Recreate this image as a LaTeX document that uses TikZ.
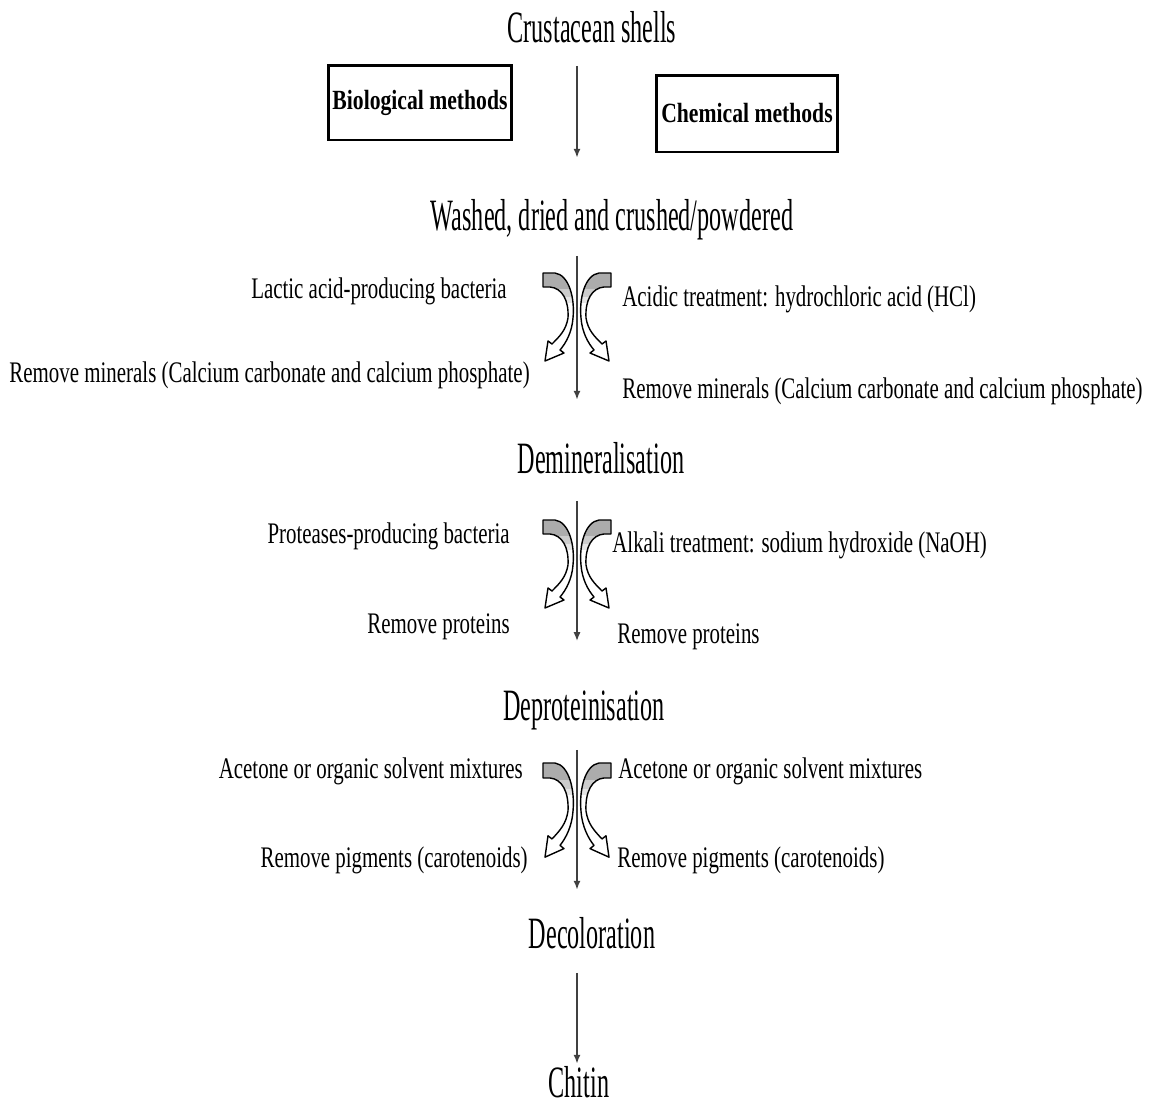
\documentclass[tikz,border=0pt]{standalone}
\usepackage{fontspec}
\setmainfont{Liberation Serif}
\newfontfamily\mainf[FakeStretch=0.54]{Liberation Serif}
\newfontfamily\sidef[FakeStretch=0.70]{Liberation Serif}
\newfontfamily\boxf[FakeStretch=0.78]{Liberation Serif}
\usetikzlibrary{arrows.meta}
\def\cshape{(-34,0) -- (-22,0) .. controls (-8,2) and (-2,25) .. (-4,45) .. controls (-5,59) and (-11,70) .. (-17,77) -- (-13,80) -- (-32,88) -- (-29,68) -- (-25,71) .. controls (-17,63) and (-11,57) .. (-9,45) .. controls (-8,27) and (-15,15) .. (-27,14) -- (-34,14) -- cycle}
\tikzset{
  mainlbl/.style={font=\mainf\fontsize{25.5}{30}\selectfont, inner sep=0pt, anchor=base},
  sidel/.style={font=\sidef\fontsize{17}{20}\selectfont, inner sep=0pt, anchor=base east},
  sider/.style={font=\sidef\fontsize{17}{20}\selectfont, inner sep=0pt, anchor=base west},
  methodbox/.style={draw, line width=1.7pt, font=\boxf\bfseries\fontsize{15.8}{18}\selectfont, inner sep=0pt},
  flow/.style={draw=black!75, line width=0.8pt, -{Latex[length=5pt,width=4pt]}},
  curvearrow/.pic={
    \fill[white] \cshape;
    \begin{scope}
      \clip \cshape;
      \fill[gray!65] (-40,-2) rectangle (0,16);
      \fill[gray!40] (-40,16) rectangle (0,24);
      \fill[gray!20] (-40,24) rectangle (0,30);
    \end{scope}
    \draw[line width=0.8pt, line join=round] \cshape;
  }
}
\begin{document}
\begin{tikzpicture}[x=0.02cm, y=-0.02cm]
\useasboundingbox (0,0) rectangle (1154,1109);
\coordinate (axis) at (577,0);

% main labels
\node[mainlbl] (crust) at (592,42) {Crustacean shells};
\node[mainlbl] (washed) at (612,230) {Washed, dried and crushed/powdered};
\node[mainlbl] (demin) at (601,473) {Demineralisation};
\node[mainlbl] (deprot) at (584,720) {Deproteinisation};
\node[mainlbl] (decol) at (592,948) {Decoloration};
\node[mainlbl] (chitin) at (579,1097) {Chitin};

% method boxes
\node[methodbox, minimum width=3.68cm, minimum height=1.5cm] (bio) at (420,102.5) {Biological methods};
\node[methodbox, minimum width=3.64cm, minimum height=1.54cm] (chem) at (747,113.5) {Chemical methods};

% side labels
\node[sidel] (lab1l) at (507,298) {Lactic acid-producing bacteria};
\node[sidel] (rem1l) at (530,382) {Remove minerals (Calcium carbonate and calcium phosphate)};
\node[sider] (lab1r) at (622,306) {Acidic treatment: hydrochloric acid (HCl)};
\node[sider] (rem1r) at (622,398) {Remove minerals (Calcium carbonate and calcium phosphate)};

\node[sidel] (lab2l) at (510,543) {Proteases-producing bacteria};
\node[sidel] (rem2l) at (510,633) {Remove proteins};
\node[sider] (lab2r) at (612,552) {Alkali treatment: sodium hydroxide (NaOH)};
\node[sider] (rem2r) at (617,643) {Remove proteins};

\node[sidel] (lab3l) at (523,778) {Acetone or organic solvent mixtures};
\node[sidel] (rem3l) at (528,867) {Remove pigments (carotenoids)};
\node[sider] (lab3r) at (618,778) {Acetone or organic solvent mixtures};
\node[sider] (rem3r) at (617,867) {Remove pigments (carotenoids)};

% vertical flow arrows
\draw[flow, shorten <=0.46cm, shorten >=0.82cm] (crust.south -| axis) -- (washed.north -| axis);
\draw[flow, shorten <=0.32cm, shorten >=0.84cm] (washed.south -| axis) -- (demin.north -| axis);
\draw[flow, shorten <=0.54cm, shorten >=0.98cm] (demin.south -| axis) -- (deprot.north -| axis);
\draw[flow, shorten <=0.40cm, shorten >=0.54cm] (deprot.south -| axis) -- (decol.north -| axis);
\draw[flow, shorten <=0.48cm, shorten >=0.04cm] (decol.south -| axis) -- (chitin.north -| axis);

% curved block arrows
\pic at (577,273) {curvearrow};
\pic[xscale=-1] at (577,273) {curvearrow};
\pic at (577,520) {curvearrow};
\pic[xscale=-1] at (577,520) {curvearrow};
\pic[yscale=1.07] at (577,763) {curvearrow};
\pic[xscale=-1, yscale=1.07] at (577,763) {curvearrow};
\end{tikzpicture}
\end{document}
